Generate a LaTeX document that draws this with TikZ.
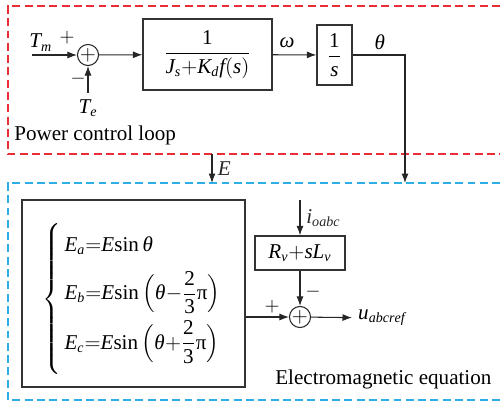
\documentclass[tikz,border=0pt]{standalone}
\usepackage{amsmath}
\usepackage{mathspec}
\setmainfont{Liberation Serif}
\setmathsfont(Digits,Latin,Greek){Liberation Serif}
\setmathrm{Liberation Serif}
\usepackage{tikz}
\usetikzlibrary{arrows.meta,positioning}

\definecolor{loopred}{RGB}{235,45,55}
\definecolor{emblue}{RGB}{45,175,230}
\newcommand{\uppi}{\text{π}}

\begin{document}
\begin{tikzpicture}[
    x=0.02cm, y=-0.02cm,
    font=\rmfamily\fontsize{12}{14}\selectfont,
    box/.style={rectangle, draw=black!80, line width=0.7pt, inner sep=2pt, align=center},
    sumnode/.style={circle, draw=black!85, line width=0.6pt, minimum size=0.4cm, inner sep=0pt},
    arrow/.style={-{Latex[length=1.9mm,width=1.4mm]}, line width=0.6pt, black!85},
    frame/.style={dash pattern=on 4.5pt off 2.5pt, line width=0.8pt},
    sign/.style={font=\rmfamily\fontsize{11}{12}\selectfont, inner sep=0pt},
    label/.style={inner sep=0pt}
]
\useasboundingbox (0,0) rectangle (500,402);

% Frames
\draw[frame, loopred] (500,6) -- (8,6) -- (8,154) -- (500,154);
\draw[frame, emblue] (500,183) -- (8,183) -- (8,400) -- (500,400);
\node[label, anchor=west] (pcl) at (14,135) {Power control loop};
\node[label, anchor=west] (eme) at (275,379) {Electromagnetic equation};

% Nodes: power control loop
\coordinate (tmin) at (32,55);
\node[label, anchor=base west] (tm) at (29,48) {$T_m$};
\node[sumnode] (sum1) at (88,55) {$+$};
\node[sign] (p1) at (67,38) {$+$};
\node[sign] (m1) at (78,79) {$-$};
\node (te) at (88,108) {$T_e$};
\node[box, minimum width=2.58cm, minimum height=1.42cm] (gov) at (207.5,54.5) {$\dfrac{1}{J_s{+}K_d f(s)}$};
\node[box, minimum width=0.7cm, minimum height=1.2cm] (integ) at (334.5,55) {$\dfrac{1}{s}$};
\node[label] (w) at (287,43) {$\omega$};
\node[label] (th) at (380,42) {$\theta$};
\coordinate (thin) at (405,183);
\coordinate (eout) at (212,154);
\coordinate (ein) at (212,183);

% Nodes: electromagnetic equation
\node[box, minimum width=4.46cm, minimum height=3.74cm] (emf) at (133.5,293.5) {};
\node[label, anchor=west] (eqs) at (42,299) {%
  $\left\{\vrule height 47pt depth 41pt width 0pt
  \begin{array}{@{\,}l@{}}
  E_a{=}E\mathrm{sin}\,\theta\\[7pt]
  E_b{=}E\mathrm{sin}\,\Bigl(\theta{-}\dfrac{2}{3}\uppi\Bigr)\\[8pt]
  E_c{=}E\mathrm{sin}\,\Bigl(\theta{+}\dfrac{2}{3}\uppi\Bigr)
  \end{array}\right.$};
\coordinate (iin) at (300,200);
\node[box, minimum width=1.8cm, minimum height=0.68cm] (zv) at (300,253) {$R_v{+}sL_v$};
\node[sumnode] (sum2) at (300,317) {$+$};
\node[sign] (m2) at (313,292) {$-$};
\node[sign] (p2) at (272,307) {$+$};
\node[anchor=west] (uref) at (352,318) {$u_{abcref}$};

% Arrows
\draw[arrow] (tmin) -- (sum1);
\draw[arrow] (te) -- (sum1);
\draw[arrow] (sum1) -- (gov);
\draw[arrow] (gov) -- (integ);
\draw[arrow] (integ.east) -| (thin);
\draw[arrow] (eout) -- (ein) node[midway, right, inner sep=3pt] {$E$};
\draw[arrow] (iin) -- (zv) node[midway, right] {$i_{oabc}$};
\draw[arrow] (zv) -- (sum2);
\draw[arrow] (emf.east |- sum2) -- (sum2);
\draw[arrow] (sum2) -- (uref);

\end{tikzpicture}
\end{document}
